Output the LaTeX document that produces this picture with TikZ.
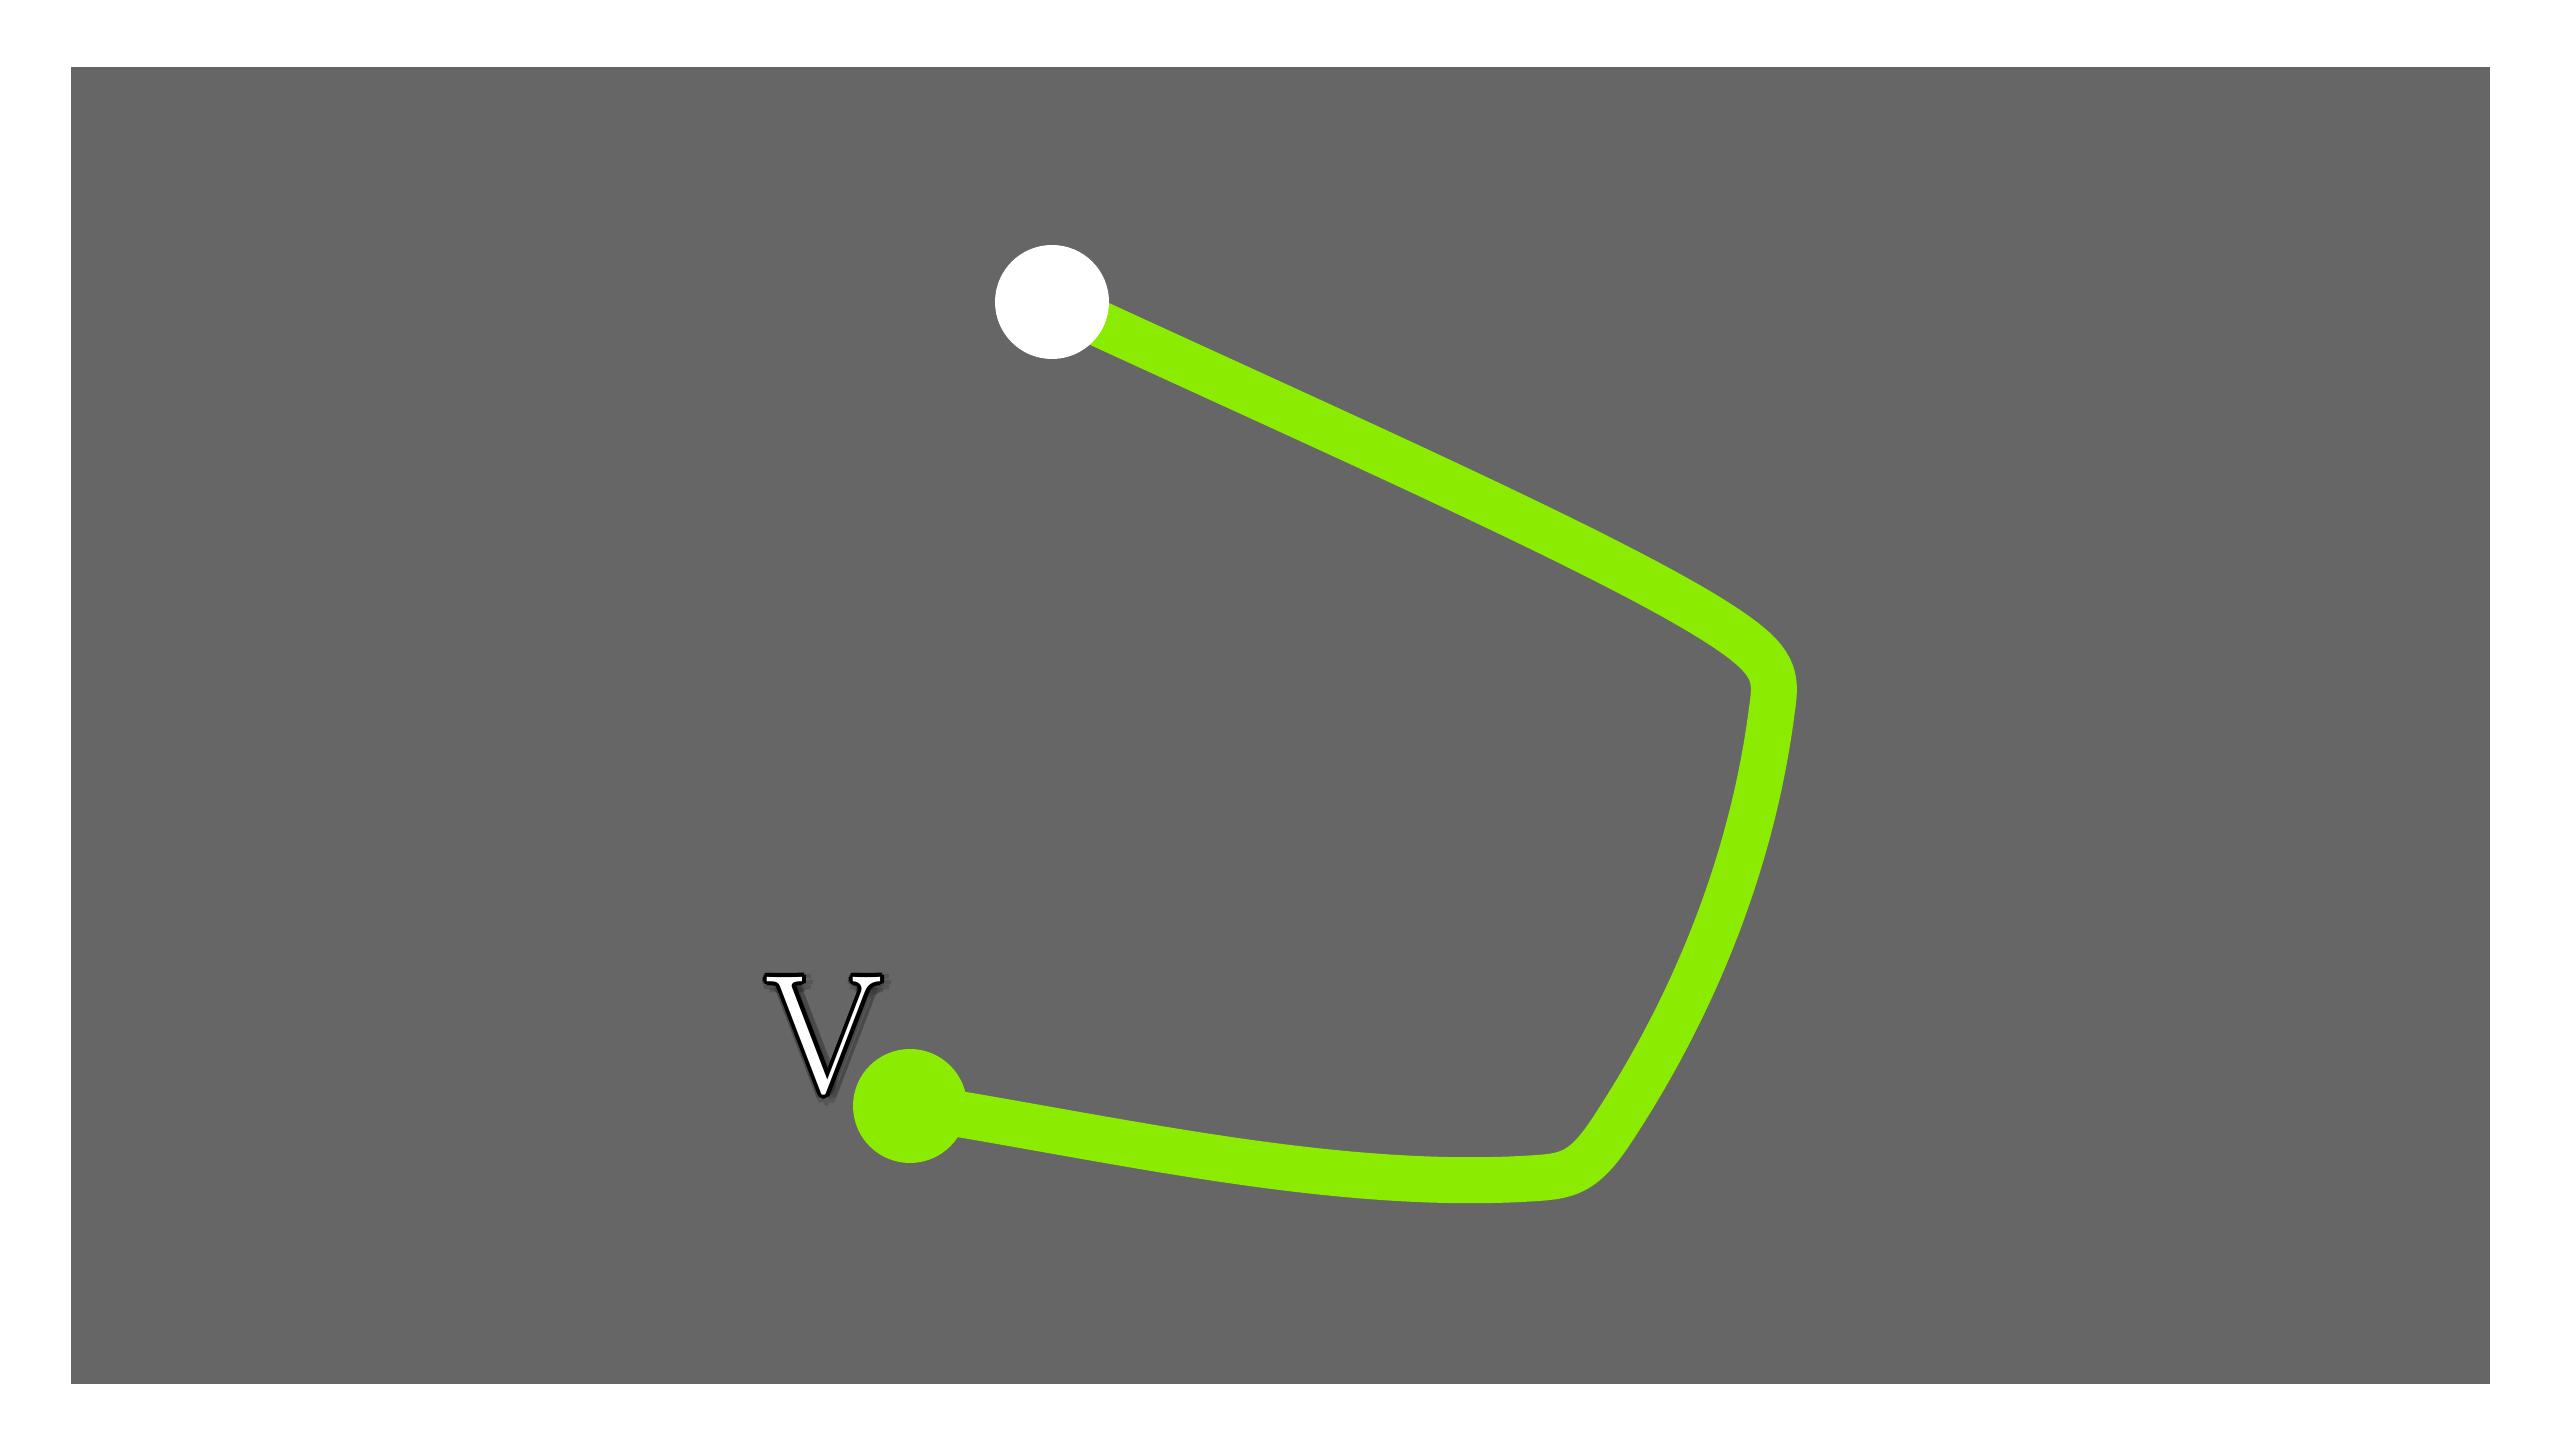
\documentclass[tikz,border=0pt]{standalone}
\usepackage{amsmath, amssymb}
\usepackage{tikz}
\usepackage{xcolor}
\usetikzlibrary{calc}

\definecolor{slate}{HTML}{666666}
\definecolor{lime}{HTML}{8BEB00}

\begin{document}
\begin{tikzpicture}[
    dot/.style={circle, inner sep=0pt, minimum size=1.14cm},
    trail/.style={draw=lime, line width=0.46cm, line join=round},
    vfont/.style={inner sep=0pt, font=\fontsize{48}{48}\selectfont}
  ]
                % Canvas
                \useasboundingbox (0,0) rectangle (25.6,14.4);
                \fill[white] (0,0) rectangle (25.6,14.4);
                \fill[slate] (0.71,0.56) rectangle (24.90,13.73);

                % End points of the path
                \coordinate (p0) at (10.52,11.38);
                \coordinate (p3) at (9.10,3.34);

                % The path
                \draw[trail] (p0)
                    .. controls (13.24,10.12) and (16.35,8.76) .. (17.33,8.07)
                    .. controls (17.79,7.75) and (17.76,7.59) .. (17.715,7.27)
                    .. controls (17.52,5.785) and (16.945,4.35) .. (16.12,3.10)
                    .. controls (15.83,2.657) and (15.67,2.637) .. (15.30,2.615)
                    .. controls (13.30,2.495) and (11.076,3.028) .. (p3);

                \node[dot, fill=white] (start) at (p0) {};
                \node[dot, fill=lime] (finish) at (p3) {};

                % Label with outline and glow
                \coordinate (vpos) at (8.24,4.04);
                \foreach \a in {0,45,...,315}
                    \node[vfont, text=black, opacity=0.15] (vglow\a) at ($(vpos)+(0.03,-0.03)+(\a:0.08)$) {V};
                \foreach \a in {0,30,...,330}
                    \node[vfont, text=black] (vline\a) at ($(vpos)+(\a:0.04)$) {V};
                \node[vfont, text=white] (vlabel) at (vpos) {V};
            \end{tikzpicture}
\end{document}
